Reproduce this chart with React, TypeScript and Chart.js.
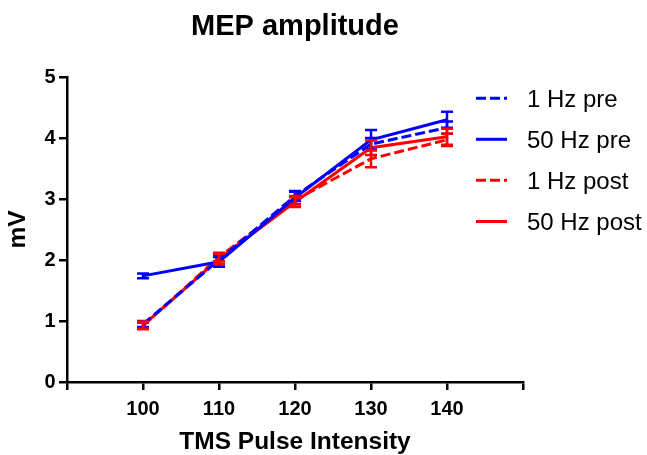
import React, { useEffect, useRef } from "react";
import { Chart, registerables } from "chart.js";

Chart.register(...registerables);

// ---- data ----
const intensities = [100, 110, 120, 130, 140];
const xTickLabels = [100, 110, 120, 130, 140];
const yTickValues = [0, 1, 2, 3, 4, 5];
const seriesNames = ["1 Hz pre", "50 Hz pre", "1 Hz post", "50 Hz post"];

const oneHzPre = [0.95, 2.0, 3.05, 3.9, 4.17];
const oneHzPreErr = [0.05, 0.07, 0.08, 0.1, 0.1];
const fiftyHzPre = [1.74, 1.97, 3.02, 3.97, 4.3];
const fiftyHzPreErr = [0.04, 0.08, 0.1, 0.16, 0.13];
const oneHzPost = [0.92, 2.05, 2.98, 3.66, 3.97];
const oneHzPostErr = [0.05, 0.07, 0.07, 0.14, 0.1];
const fiftyHzPost = [0.93, 2.02, 2.95, 3.84, 4.02];
const fiftyHzPostErr = [0.06, 0.08, 0.08, 0.12, 0.13];

const FONT = "'Liberation Sans', Arial, Helvetica, sans-serif";
const BLUE = "#0000ff";
const RED = "#ff0000";
const DASH = [10, 4];

const errorBarPlugin = {
  id: "errorBars",
  afterDatasetsDraw(chart: any) {
    const ctx = chart.ctx;
    const xs = chart.scales.x;
    const ys = chart.scales.y;
    chart.data.datasets.forEach((ds: any) => {
      const errs: number[] = ds.errors || [];
      ctx.save();
      ctx.strokeStyle = ds.borderColor;
      ctx.lineWidth = 2.5;
      ctx.setLineDash([]);
      ds.data.forEach((p: any, i: number) => {
        const e = errs[i];
        if (e == null) return;
        const px = xs.getPixelForValue(p.x);
        const yTop = ys.getPixelForValue(p.y + e);
        const yBot = ys.getPixelForValue(p.y - e);
        const cap = 6;
        ctx.beginPath();
        ctx.moveTo(px, yTop);
        ctx.lineTo(px, yBot);
        ctx.moveTo(px - cap, yTop);
        ctx.lineTo(px + cap, yTop);
        ctx.moveTo(px - cap, yBot);
        ctx.lineTo(px + cap, yBot);
        ctx.stroke();
      });
      ctx.restore();
    });
  },
};

const legendPlugin = {
  id: "customLegend",
  afterDraw(chart: any) {
    const ctx = chart.ctx;
    const rowY = [98.3, 139.3, 180.3, 221.5];
    const lineX0 = 476;
    const lineX1 = 507;
    const textX = 527;
    ctx.save();
    chart.data.datasets.forEach((ds: any, i: number) => {
      const y = rowY[i];
      ctx.strokeStyle = ds.borderColor;
      ctx.lineWidth = 3;
      ctx.setLineDash(ds.borderDash || []);
      ctx.beginPath();
      ctx.moveTo(lineX0, y);
      ctx.lineTo(lineX1, y);
      ctx.stroke();
      ctx.setLineDash([]);
      ctx.fillStyle = "#000";
      ctx.font = `24px ${FONT}`;
      ctx.textAlign = "left";
      ctx.textBaseline = "alphabetic";
      ctx.fillText(ds.label, textX, y + 8.4);
    });
    ctx.restore();
  },
};

function makeData(vals: number[]) {
  return intensities.map((x, i) => ({ x, y: vals[i] }));
}

export default function App() {
  const ref = useRef<HTMLCanvasElement | null>(null);

  useEffect(() => {
    if (!ref.current) return;
    const series = [
      { v: oneHzPre, e: oneHzPreErr, c: BLUE, dash: DASH },
      { v: fiftyHzPre, e: fiftyHzPreErr, c: BLUE, dash: [] },
      { v: oneHzPost, e: oneHzPostErr, c: RED, dash: DASH },
      { v: fiftyHzPost, e: fiftyHzPostErr, c: RED, dash: [] },
    ];
    const chart = new Chart(ref.current, {
      type: "line",
      data: {
        datasets: series.map((s, i) => ({
          label: seriesNames[i],
          data: makeData(s.v),
          errors: s.e,
          borderColor: s.c,
          backgroundColor: s.c,
          borderWidth: 3,
          borderDash: s.dash,
          pointRadius: 0,
          pointHoverRadius: 0,
          tension: 0,
          fill: false,
        })) as any,
      },
      options: {
        responsive: false,
        maintainAspectRatio: false,
        animation: false,
        events: [],
        layout: { padding: { left: 0, right: 124, top: 0, bottom: 0 } },
        plugins: {
          legend: { display: false },
          tooltip: { enabled: false },
          title: {
            display: true,
            text: "MEP amplitude",
            color: "#000",
            fullSize: false,
            font: { family: FONT, size: 29, weight: "bold", lineHeight: 1.2 },
            padding: { top: 9.6, bottom: 32.6 },
          },
        },
        scales: {
          x: {
            type: "linear",
            min: 90,
            max: 150,
            afterFit: (scale: any) => {
              scale.height = 73;
            },
            afterBuildTicks: (scale: any) => {
              scale.ticks = [90, ...xTickLabels, 150].map((v) => ({ value: v }));
            },
            ticks: {
              color: "#000",
              padding: 7,
              maxRotation: 0,
              autoSkip: false,
              font: { family: FONT, size: 20, weight: "bold" },
              callback: (v: any) => (xTickLabels.includes(Number(v)) ? String(v) : ""),
            },
            grid: {
              display: true,
              drawOnChartArea: false,
              drawTicks: true,
              tickLength: 8,
              color: "#000",
              lineWidth: 2.5,
            },
            border: { display: true, color: "#000", width: 2.5 },
            title: {
              display: true,
              text: "TMS Pulse Intensity",
              color: "#000",
              font: { family: FONT, size: 24.5, weight: "bold", lineHeight: 1 },
              padding: { top: 0, bottom: 0.8 },
            },
          },
          y: {
            type: "linear",
            min: 0,
            max: 5,
            afterFit: (scale: any) => {
              scale.width = 67;
            },
            afterBuildTicks: (scale: any) => {
              scale.ticks = yTickValues.map((v) => ({ value: v }));
            },
            ticks: {
              color: "#000",
              padding: 3.5,
              font: { family: FONT, size: 20, weight: "bold" },
            },
            grid: {
              display: true,
              drawOnChartArea: false,
              drawTicks: true,
              tickLength: 8,
              color: "#000",
              lineWidth: 2.5,
            },
            border: { display: true, color: "#000", width: 2.5 },
            title: {
              display: true,
              text: "mV",
              color: "#000",
              font: { family: FONT, size: 24.5, weight: "bold", lineHeight: 1 },
              padding: { top: 5.8, bottom: 0 },
            },
          },
        },
      } as any,
      plugins: [errorBarPlugin, legendPlugin],
    });
    return () => chart.destroy();
  }, []);

  return (
    <div style={{ position: "absolute", left: 0, top: 0, width: 647, height: 455, background: "#fff" }}>
      <canvas ref={ref} width={647} height={455} style={{ width: 647, height: 455 }} />
    </div>
  );
}
